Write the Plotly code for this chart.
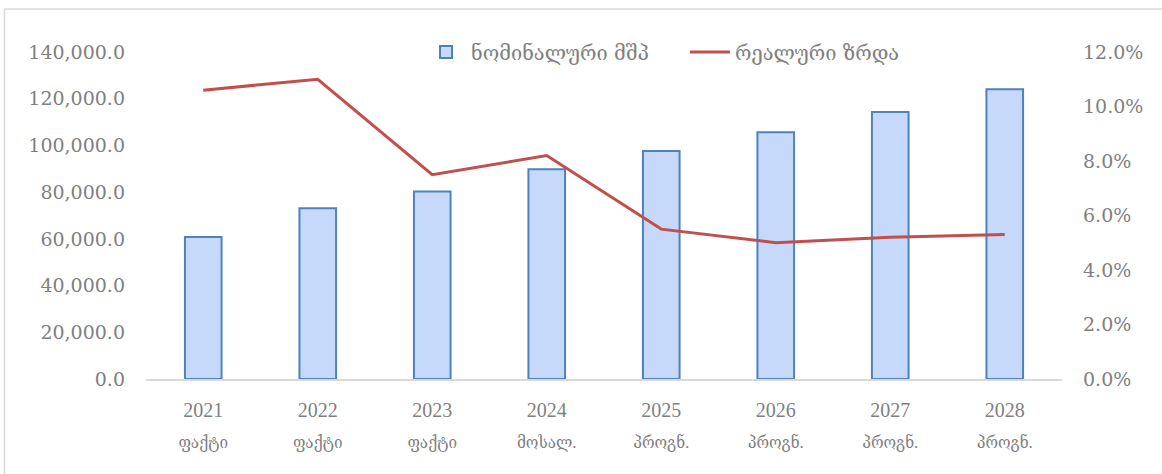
import plotly.graph_objects as go

years = ["2021", "2022", "2023", "2024", "2025", "2026", "2027", "2028"]
status = ["ფაქტი", "ფაქტი", "ფაქტი", "მოსალ.", "პროგნ.", "პროგნ.", "პროგნ.", "პროგნ."]
nominal_gdp = [60800, 73100, 80300, 89800, 97600, 105600, 114300, 124000]
real_growth = [0.106, 0.110, 0.075, 0.082, 0.055, 0.050, 0.052, 0.053]
bar_name = "ნომინალური მშპ"
line_name = "რეალური ზრდა"

categories = [
    f"<span style='font-size:20px'>{y}</span><br><span style='font-size:17px'>{s}</span>"
    for y, s in zip(years, status)
]

W, H = 1162, 474
ML, MR, MT, MB = 146, 100, 52, 95
pw = W - ML - MR
ph = H - MT - MB

def px_x(p):
    return (p - ML) / pw

def px_y(p):
    return (H - MB - p) / ph

TXT = "#7f7f7f"
FONT = "DejaVu Serif"

fig = go.Figure()
fig.add_trace(go.Bar(
    x=categories, y=nominal_gdp, name=bar_name, width=0.32,
    marker=dict(color="#c6d9fb", line=dict(color="#4f81bd", width=2)),
    yaxis="y",
))
fig.add_trace(go.Scatter(
    x=categories, y=real_growth, name=line_name, mode="lines",
    line=dict(color="#c0504d", width=3),
    yaxis="y2",
))

fig.update_layout(
    width=W, height=H,
    margin=dict(l=ML, r=MR, t=MT, b=MB),
    paper_bgcolor="white", plot_bgcolor="white",
    font=dict(family=FONT, color=TXT, size=18),
    showlegend=True,
    legend=dict(orientation="h", x=px_x(421), xanchor="left", y=px_y(52), yanchor="middle",
                font=dict(family="DejaVu Serif", size=20, color=TXT),
                bgcolor="rgba(0,0,0,0)", itemwidth=40, traceorder="normal",
                entrywidth=209, entrywidthmode="pixels"),
    xaxis=dict(showline=True, linecolor="#d9d9d9", linewidth=1.5, showgrid=False,
               ticks="",
               tickfont=dict(family="Liberation Serif, DejaVu Serif Condensed, DejaVu Serif",
                             size=24, color=TXT),
               ticklabelstandoff=7),
    yaxis=dict(range=[0, 140000], dtick=20000, tickformat=",.1f", showgrid=False,
               zeroline=False, showline=False, ticks="",
               tickfont=dict(family=FONT, size=19, color=TXT), ticklabelstandoff=20),
    yaxis2=dict(range=[0, 0.12], dtick=0.02, tickformat=".1%", overlaying="y", side="right",
                showgrid=False, zeroline=False, showline=False, ticks="",
                tickfont=dict(family=FONT, size=19, color=TXT), ticklabelstandoff=20),
    shapes=[
        dict(type="line", xref="paper", yref="paper", x0=px_x(4.5), x1=px_x(4.5),
             y0=px_y(9), y1=px_y(H), line=dict(color="#d9d9d9", width=1.5)),
        dict(type="line", xref="paper", yref="paper", x0=px_x(4.5), x1=px_x(W),
             y0=px_y(9), y1=px_y(9), line=dict(color="#d9d9d9", width=1.5)),
    ],
)

fig.write_html("out.html", post_script="document.body.style.margin='0';",
               config={"displayModeBar": False})
